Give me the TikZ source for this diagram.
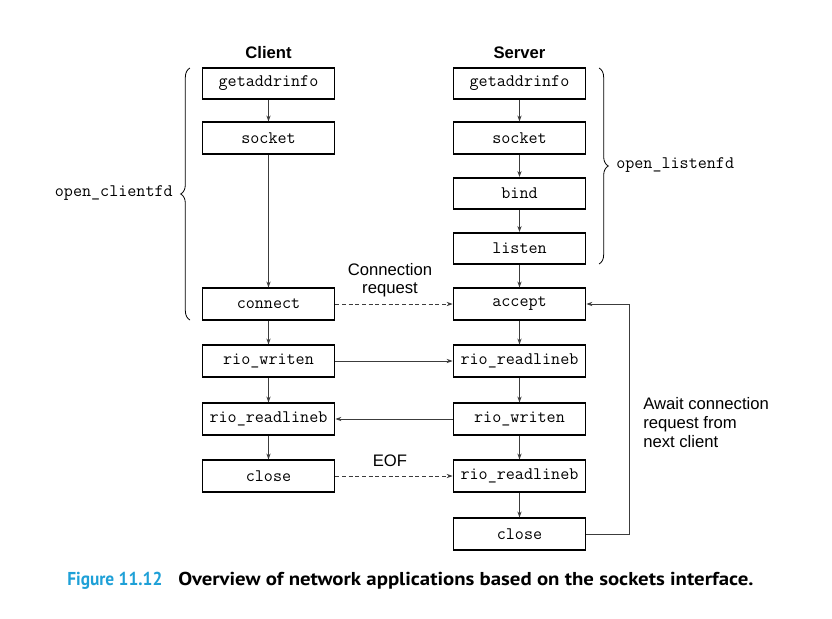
\documentclass[tikz,border=0pt]{standalone}
\usepackage{fontspec}
\newfontfamily\labelfont{Liberation Sans}
\newfontfamily\capfont{PT Sans}[FakeStretch=1.115]
\newfontfamily\capnumfont{PT Sans}[FakeStretch=0.93]
\usetikzlibrary{arrows.meta,decorations.pathreplacing}
\definecolor{capblue}{RGB}{30,160,215}
\definecolor{linkgray}{RGB}{60,60,60}
\tikzset{
  call/.style={draw=black, line width=1.3pt, minimum width=99pt, minimum height=23.5pt,
    inner sep=0pt, font=\fontsize{13.2}{15}\ttfamily},
  flow/.style={draw=linkgray, line width=0.6pt, -{Stealth[length=4.5pt,width=3.2pt]}},
  msg/.style={flow, dashed, dash pattern=on 3pt off 2pt},
  brace/.style={decorate, decoration={brace, amplitude=7pt}, line width=0.6pt},
  sidelabel/.style={font=\fontsize{13.2}{15}\ttfamily},
  note/.style={font=\fontsize{12.5}{14.3}\labelfont, align=center, inner sep=0pt},
  header/.style={font=\fontsize{12.5}{15}\labelfont\bfseries, inner sep=0pt}
}
\begin{document}
\begin{tikzpicture}[x=0.75pt,y=-0.75pt]
  \useasboundingbox (0,0) rectangle (832,618);

  % column headers
  \node[header] (hc) at (268.5,53) {Client};
  \node[header] (hs) at (519.5,53) {Server};

  % client calls
  \node[call] (cgai)  at (268.5,83.5) {getaddrinfo};
  \node[call] (csock) at (268.5,138)  {socket};
  \node[call] (cconn) at (268.5,304)  {connect};
  \node[call] (cwr)   at (268.5,361)  {rio\_writen};
  \node[call] (crd)   at (268.5,419)  {rio\_readlineb};
  \node[call] (ccl)   at (268.5,476)  {close};

  % server calls
  \node[call] (sgai)  at (519.5,83.5) {getaddrinfo};
  \node[call] (ssock) at (519.5,138)  {socket};
  \node[call] (sbind) at (519.5,193.5){bind};
  \node[call] (slis)  at (519.5,248.5){listen};
  \node[call] (sacc)  at (519.5,304)  {accept};
  \node[call] (srd)   at (519.5,361)  {rio\_readlineb};
  \node[call] (swr)   at (519.5,419)  {rio\_writen};
  \node[call] (srd2)  at (519.5,476)  {rio\_readlineb};
  \node[call] (scl)   at (519.5,534)  {close};

  % client sequence
  \draw[flow] (cgai) -- (csock);
  \draw[flow] (csock) -- (cconn);
  \draw[flow] (cconn) -- (cwr);
  \draw[flow] (cwr) -- (crd);
  \draw[flow] (crd) -- (ccl);

  % server sequence
  \draw[flow] (sgai) -- (ssock);
  \draw[flow] (ssock) -- (sbind);
  \draw[flow] (sbind) -- (slis);
  \draw[flow] (slis) -- (sacc);
  \draw[flow] (sacc) -- (srd);
  \draw[flow] (srd) -- (swr);
  \draw[flow] (swr) -- (srd2);
  \draw[flow] (srd2) -- (scl);

  % exchanges between client and server
  \draw[msg] (cconn) -- (sacc);
  \draw[flow] (cwr) -- (srd);
  \draw[flow] (swr) -- (crd);
  \draw[msg] (ccl) -- (srd2);
  \node[note] (lreq) at (390,280) {Connection\\[-1pt]request};
  \node[note] (leof) at (390,461) {EOF};

  % loop back to accept
  \coordinate (lp1) at (629,534);
  \coordinate (lp2) at (629,304);
  \draw[flow] (scl.east) -- (lp1) -- (lp2) -- (sacc.east);
  \node[note, anchor=north west, align=left] (lawait) at (643,397)
    {Await connection\\request from\\next client};

  % helper groupings
  \coordinate (cb1) at (190,320);
  \coordinate (cb2) at (190,68);
  \draw[brace] (cb1) -- (cb2);
  \node[sidelabel, anchor=east, inner sep=0pt] (lcfd) at (173,193) {open\_clientfd};
  \coordinate (sb1) at (599,68);
  \coordinate (sb2) at (599,264);
  \draw[brace] (sb1) -- (sb2);
  \node[sidelabel, anchor=west, inner sep=0pt] (llfd) at (616,165) {open\_listenfd};

  % caption
  \node[anchor=base west, inner sep=0pt, font=\fontsize{14}{16}\capnumfont\bfseries, text=capblue]
    (capnum) at (67,585) {Figure 11.12};
  \node[anchor=base west, inner sep=0pt, font=\fontsize{14}{16}\capfont\bfseries]
    (captext) at (178,585) {Overview of network applications based on the sockets interface.};
\end{tikzpicture}
\end{document}
